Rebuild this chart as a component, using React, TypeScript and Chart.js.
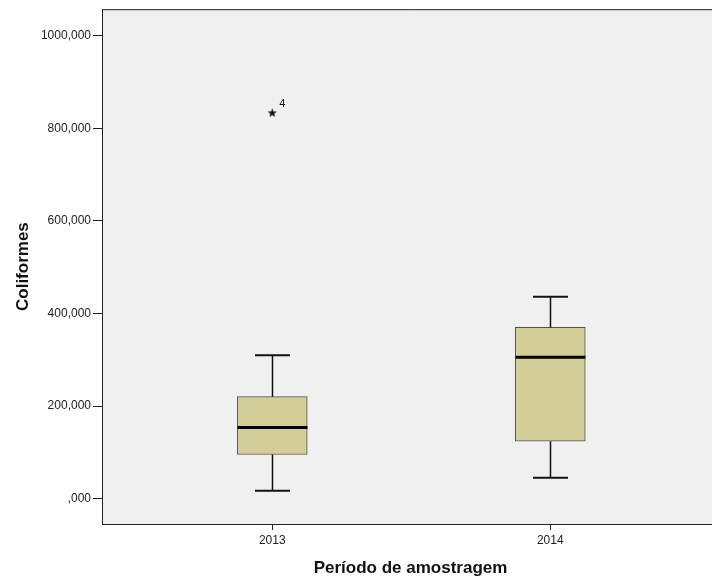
import React, { useEffect, useRef } from "react";
import { Chart, registerables } from "chart.js";

Chart.register(...registerables);

const categories = ["2013", "2014"];
const categoryPositions = [2013, 2014];
const whiskerLow = [17.2, 45.3];
const quartile1 = [95.5, 124.4];
const medians = [153.7, 305.4];
const quartile3 = [220.5, 370.0];
const whiskerHigh = [309.7, 436.0];
const outlierCategory = [2013];
const outlierValues = [833.4];
const outlierLabels = ["4"];
const yTicks = [0, 200, 400, 600, 800, 1000];

const FONT = "'Liberation Sans', Arial, sans-serif";

function formatTick(v: number): string {
  if (v === 0) return ",000";
  return v.toFixed(3).replace(".", ",");
}

function makeStar(): HTMLCanvasElement {
  const c = document.createElement("canvas");
  c.width = 11;
  c.height = 11;
  const ctx = c.getContext("2d")!;
  ctx.fillStyle = "#111";
  ctx.beginPath();
  const cx = 5.5, cy = 5.8, R = 4.8, r = 2.0;
  for (let i = 0; i < 10; i++) {
    const ang = -Math.PI / 2 + (i * Math.PI) / 5;
    const rad = i % 2 === 0 ? R : r;
    const px = cx + rad * Math.cos(ang);
    const py = cy + rad * Math.sin(ang);
    if (i === 0) ctx.moveTo(px, py);
    else ctx.lineTo(px, py);
  }
  ctx.closePath();
  ctx.fill();
  return c;
}

const boxPlugin = {
  id: "boxExtras",
  beforeDraw(chart: any) {
    const { ctx, chartArea } = chart;
    ctx.save();
    ctx.fillStyle = "#F0F0F0";
    ctx.fillRect(chartArea.left, chartArea.top, chartArea.right - chartArea.left, chartArea.bottom - chartArea.top);
    ctx.restore();
  },
  afterDatasetsDraw(chart: any) {
    const { ctx } = chart;
    const xs = chart.scales.x;
    const ys = chart.scales.y;
    ctx.save();
    ctx.strokeStyle = "#111";
    ctx.lineCap = "butt";
    for (let i = 0; i < categories.length; i++) {
      const x = Math.round(xs.getPixelForValue(categoryPositions[i])) + 0.5;
      const yMin = ys.getPixelForValue(whiskerLow[i]);
      const yQ1 = ys.getPixelForValue(quartile1[i]);
      const yMed = ys.getPixelForValue(medians[i]);
      const yQ3 = ys.getPixelForValue(quartile3[i]);
      const yMax = ys.getPixelForValue(whiskerHigh[i]);
      ctx.lineWidth = 1.5;
      ctx.beginPath();
      ctx.moveTo(x, yQ1);
      ctx.lineTo(x, yMin);
      ctx.moveTo(x, yQ3);
      ctx.lineTo(x, yMax);
      ctx.stroke();
      ctx.lineWidth = 2;
      ctx.beginPath();
      ctx.moveTo(x - 17.5, yMin);
      ctx.lineTo(x + 17.5, yMin);
      ctx.moveTo(x - 17.5, yMax);
      ctx.lineTo(x + 17.5, yMax);
      ctx.stroke();
      ctx.lineWidth = 3;
      ctx.strokeStyle = "#000";
      ctx.beginPath();
      ctx.moveTo(x - 35, yMed);
      ctx.lineTo(x + 35, yMed);
      ctx.stroke();
      ctx.strokeStyle = "#111";
    }
    ctx.fillStyle = "#111";
    ctx.font = `11px ${FONT}`;
    ctx.textAlign = "left";
    ctx.textBaseline = "middle";
    for (let i = 0; i < outlierValues.length; i++) {
      const x = xs.getPixelForValue(outlierCategory[i]);
      const y = ys.getPixelForValue(outlierValues[i]);
      ctx.fillText(outlierLabels[i], x + 7, y - 9);
    }
    ctx.restore();
  },
  afterDraw(chart: any) {
    const { ctx, chartArea } = chart;
    ctx.save();
    ctx.strokeStyle = "#222";
    ctx.lineWidth = 1;
    ctx.beginPath();
    ctx.moveTo(chartArea.left + 0.5, chartArea.bottom + 0.5);
    ctx.lineTo(chartArea.left + 0.5, chartArea.top + 0.5);
    ctx.lineTo(chartArea.right + 5, chartArea.top + 0.5);
    ctx.stroke();
    ctx.restore();
  },
};

export default function App() {
  const ref = useRef<HTMLCanvasElement | null>(null);
  useEffect(() => {
    if (!ref.current) return;
    const star = makeStar();
    const chart = new Chart(ref.current, {
      type: "bar",
      data: {
        datasets: [
          {
            type: "bar",
            data: categoryPositions.map((c, i) => ({ x: c, y: [quartile1[i], quartile3[i]] })) as any,
            backgroundColor: "#D3CE98",
            borderColor: "#505050",
            borderWidth: 1,
            borderSkipped: false,
            barThickness: 70,
          } as any,
          {
            type: "scatter",
            data: outlierCategory.map((c, i) => ({ x: c, y: outlierValues[i] })),
            pointStyle: star,
            pointRadius: 5,
          } as any,
        ],
      },
      options: {
        responsive: false,
        animation: false,
        devicePixelRatio: 1,
        layout: { padding: { top: 9, left: 0, right: 0, bottom: 0 } },
        plugins: { legend: { display: false }, tooltip: { enabled: false } },
        scales: {
          x: {
            type: "linear",
            offset: false,
            min: 2013 - 170.5 / 278.5,
            max: 2014 + 169 / 278.5,
            afterBuildTicks: (scale: any) => {
              scale.ticks = categoryPositions.map((v) => ({ value: v }));
            },
            afterFit: (scale: any) => {
              scale.height = 54;
              scale.paddingLeft = 0;
              scale.paddingRight = 0;
            },
            grid: { offset: false, drawOnChartArea: false, drawTicks: true, tickLength: 6, color: "#222" },
            border: { display: true, color: "#222", width: 1 },
            ticks: {
              padding: 3,
              color: "#222",
              font: { family: FONT, size: 12 },
              callback: (v: any) => categories[categoryPositions.indexOf(Number(v))] ?? "",
              maxRotation: 0,
            },
            title: {
              display: true,
              text: "Período de amostragem",
              color: "#111",
              font: { family: FONT, size: 17, weight: "bold" },
              padding: { top: 0, bottom: -1 },
            },
          },
          y: {
            type: "linear",
            min: -54.5,
            max: 1057,
            afterBuildTicks: (scale: any) => {
              scale.ticks = yTicks.map((v) => ({ value: v }));
            },
            afterFit: (scale: any) => {
              scale.width = 102;
            },
            grid: { drawOnChartArea: false, drawTicks: true, tickLength: 9, color: "#222" },
            border: { display: true, color: "#222", width: 1 },
            ticks: {
              padding: 2,
              color: "#222",
              font: { family: FONT, size: 12 },
              callback: (v: any) => formatTick(Number(v)),
            },
            title: {
              display: true,
              text: "Coliformes",
              color: "#111",
              font: { family: FONT, size: 17, weight: "bold" },
              padding: { top: 13, bottom: 0 },
            },
          },
        },
      },
      plugins: [boxPlugin],
    });
    return () => chart.destroy();
  }, []);
  return (
    <div style={{ position: "fixed", left: 0, top: 0, width: 712, height: 578, overflow: "hidden", background: "#fff" }}>
      <canvas ref={ref} width={725} height={578} style={{ display: "block", width: 725, height: 578 }} />
    </div>
  );
}
